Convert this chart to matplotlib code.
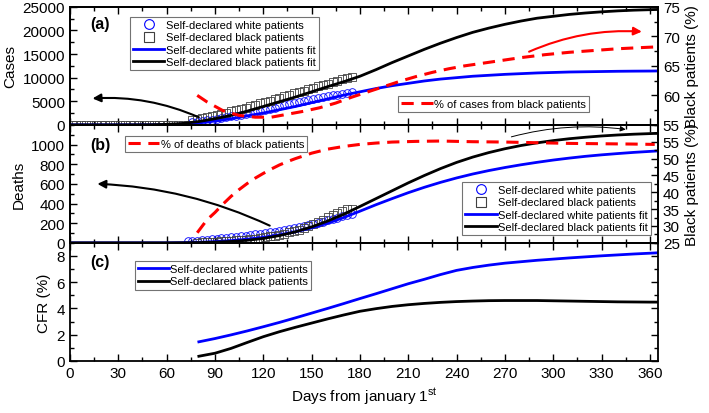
import numpy as np
import matplotlib.pyplot as plt
from matplotlib.lines import Line2D
from matplotlib.ticker import MultipleLocator

plt.rcParams['font.family'] = 'Liberation Sans'
plt.rcParams['mathtext.fontset'] = 'custom'
plt.rcParams['mathtext.rm'] = 'Liberation Sans'
plt.rcParams['xtick.direction'] = 'in'
plt.rcParams['ytick.direction'] = 'in'

# fitted curves (days from january 1st)
days_fit = np.append(np.arange(0, 361, 10), 365)
cases_white_fit = [0, 0, 0, 0, 0, 5, 30, 150, 400, 800, 1300, 1900, 2500, 3200, 3900, 4700,
                   5500, 6300, 7000, 7700, 8300, 8800, 9300, 9700, 10000, 10300, 10500, 10700,
                   10850, 11000, 11100, 11200, 11250, 11300, 11350, 11380, 11400, 11420]
cases_black_fit = [0, 0, 0, 0, 10, 30, 100, 300, 700, 1300, 2000, 2900, 3900, 4900, 5900, 7000,
                   8100, 9150, 10300, 11700, 13200, 14600, 16000, 17300, 18500, 19600, 20500,
                   21300, 22000, 22600, 23000, 23400, 23700, 23950, 24150, 24300, 24400, 24450]
deaths_white_fit = [0, 0, 0, 0, 0, 0, 0, 2, 5, 12, 22, 36, 55, 80, 112, 152, 200, 258, 322, 388,
                    450, 510, 565, 615, 660, 700, 735, 766, 794, 819, 842, 862, 880, 895, 908,
                    920, 930, 935]
deaths_black_fit = [0, 0, 0, 0, 0, 0, 0, 1, 3, 7, 14, 26, 45, 74, 112, 162, 222, 292, 370, 450,
                    530, 610, 685, 755, 818, 872, 918, 957, 990, 1017, 1040, 1059, 1074, 1087,
                    1097, 1105, 1111, 1114]

# observed data
obs_days = np.arange(76, 176, 3)
cases_white_obs = [600, 700, 830, 960, 1100, 1250, 1420, 1600, 1780, 1960, 2150, 2350, 2560,
                   2770, 2990, 3210, 3440, 3670, 3900, 4130, 4360, 4590, 4810, 5030, 5240, 5450,
                   5650, 5850, 6040, 6230, 6410, 6580, 6750, 6900]
cases_black_obs = [1000, 1250, 1500, 1700, 1900, 2100, 2350, 2600, 2850, 3100, 3380, 3660, 3950,
                   4250, 4550, 4850, 5150, 5450, 5750, 6050, 6350, 6650, 6950, 7250, 7550, 7850,
                   8150, 8450, 8750, 9050, 9350, 9650, 9900, 10100]
pre_days = np.arange(1, 76, 3)
pre_cases_black = [0, 0, 0, 0, 0, 0, 0, 0, 0, 0, 0, 0, 0, 0, 0, 0, 0, 0, 0, 0, 0, 0, 0, 0, 0]

deaths_white_days = np.arange(73, 176, 3)
deaths_white_obs = [15, 18, 22, 27, 32, 37, 42, 47, 52, 57, 62, 68, 74, 80, 86, 92, 99, 106, 113,
                    121, 129, 138, 147, 157, 168, 179, 191, 203, 216, 229, 243, 257, 271, 284, 296]
deaths_black_days = np.arange(79, 176, 3)
deaths_black_obs = [3, 5, 7, 9, 11, 14, 17, 20, 24, 28, 33, 38, 44, 50, 57, 65, 74, 84, 95, 107,
                    120, 135, 151, 169, 189, 211, 235, 260, 285, 308, 327, 340, 345]

# share of black patients (%)
pct_cases_days = [79, 85, 95, 105, 115, 125, 135, 145, 155, 165, 175, 185, 195, 205, 215, 225,
                  235, 245, 255, 265, 280, 295, 310, 325, 340, 355, 363]
pct_cases = [60.0, 58.9, 57.4, 56.6, 56.3, 56.3, 56.8, 57.3, 57.9, 58.7, 59.7, 60.6, 61.5, 62.4,
             63.2, 63.9, 64.5, 65.0, 65.4, 65.8, 66.4, 66.9, 67.3, 67.6, 67.9, 68.1, 68.2]
pct_deaths_days = [79, 85, 90, 95, 100, 105, 110, 115, 120, 125, 130, 135, 140, 150, 160, 170,
                   180, 190, 200, 215, 230, 250, 270, 290, 310, 330, 350, 363]
pct_deaths = [28.0, 31.8, 34.0, 36.5, 38.8, 40.8, 42.6, 44.2, 45.6, 46.9, 48.1, 49.1, 50.0, 51.6,
              52.8, 53.6, 54.2, 54.6, 54.9, 55.1, 55.2, 55.0, 54.9, 54.7, 54.5, 54.4, 54.3, 54.2]

# case fatality rate (%)
days_cfr = np.append(np.arange(80, 361, 10), 365)
cfr_white = [1.45, 1.7, 1.98, 2.28, 2.6, 2.93, 3.28, 3.64, 4.0, 4.37, 4.75, 5.12, 5.5, 5.88,
             6.22, 6.58, 6.9, 7.12, 7.3, 7.45, 7.56, 7.67, 7.76, 7.85, 7.93, 8.01, 8.08, 8.15,
             8.21, 8.24]
cfr_black = [0.35, 0.58, 0.95, 1.4, 1.84, 2.22, 2.56, 2.88, 3.2, 3.5, 3.78, 3.98, 4.15, 4.28,
             4.38, 4.46, 4.52, 4.56, 4.59, 4.6, 4.6, 4.6, 4.58, 4.56, 4.54, 4.52, 4.5, 4.49,
             4.48, 4.48]

lab_w = 'Self-declared white patients'
lab_b = 'Self-declared black patients'
lab_wf = 'Self-declared white patients fit'
lab_bf = 'Self-declared black patients fit'

fig = plt.figure(figsize=(7.09, 4.14), dpi=100)
gs = fig.add_gridspec(3, 1, left=0.0987, right=0.928, top=0.981, bottom=0.126, hspace=0)
ax_a = fig.add_subplot(gs[0])
ax_b = fig.add_subplot(gs[1], sharex=ax_a)
ax_c = fig.add_subplot(gs[2], sharex=ax_a)
tw_a = ax_a.twinx()
tw_b = ax_b.twinx()


def style(ax):
    for s in ax.spines.values():
        s.set_linewidth(1.3)
    ax.tick_params(which='major', length=5, width=1, labelsize=11, top=True)
    ax.tick_params(which='minor', length=3, width=1, top=True)


for ax in (ax_a, ax_b, ax_c, tw_a, tw_b):
    style(ax)
ax_c.tick_params(which='both', right=True)

ax_a.set_xlim(0, 365)
ax_a.xaxis.set_major_locator(MultipleLocator(30))
ax_a.xaxis.set_minor_locator(MultipleLocator(15))
ax_a.tick_params(labelbottom=False)
ax_b.tick_params(labelbottom=False)

mk = dict(ls='none', mfc='none', ms=5.5, mew=0.6)
fit = dict(lw=2)
dash = dict(color='red', lw=2.2, dashes=(4, 2.5))

# (a) cases
ax_a.plot(pre_days, pre_cases_black, marker='s', mec='0.25', **mk)
ax_a.plot(obs_days, cases_white_obs, marker='o', mec='blue', **mk)
ax_a.plot(obs_days, cases_black_obs, marker='s', mec='0.25', **mk)
ax_a.plot(days_fit, cases_white_fit, color='blue', **fit)
ax_a.plot(days_fit, cases_black_fit, color='black', **fit)
ax_a.set_ylim(0, 25000)
ax_a.set_yticks(np.arange(0, 25001, 5000))
ax_a.yaxis.set_minor_locator(MultipleLocator(2500))
ax_a.set_ylabel('Cases', fontsize=11)
tw_a.plot(pct_cases_days, pct_cases, **dash)
tw_a.set_ylim(55, 75)
tw_a.set_yticks(np.arange(55, 76, 5))
tw_a.yaxis.set_minor_locator(MultipleLocator(2.5))
tw_a.set_ylabel('Black patients (%)', fontsize=11)
ax_a.text(0.034, 0.86, '(a)', transform=ax_a.transAxes, fontsize=11.5,
          fontweight='bold', va='center')

ax_a.annotate('', xy=(14, 5600), xytext=(80, 1600),
              arrowprops=dict(arrowstyle='-|>', color='black', lw=1.5, mutation_scale=12,
                              shrinkA=0, shrinkB=0, connectionstyle='arc3,rad=0.12'))
tw_a.annotate('', xy=(355, 70.8), xytext=(285, 67.4),
              arrowprops=dict(arrowstyle='-|>', color='red', lw=1.5, mutation_scale=12,
                              shrinkA=0, shrinkB=0, connectionstyle='arc3,rad=-0.12'))

# (b) deaths
ax_b.plot(deaths_white_days, deaths_white_obs, marker='o', mec='blue', **mk)
ax_b.plot(deaths_black_days, deaths_black_obs, marker='s', mec='0.25', **mk)
ax_b.plot(days_fit, deaths_white_fit, color='blue', **fit)
ax_b.plot(days_fit, deaths_black_fit, color='black', **fit)
ax_b.set_ylim(0, 1200)
ax_b.set_yticks(np.arange(0, 1001, 200))
ax_b.yaxis.set_minor_locator(MultipleLocator(100))
ax_b.set_ylabel('Deaths', fontsize=11)
tw_b.plot(pct_deaths_days, pct_deaths, **dash)
tw_b.set_ylim(25, 60)
tw_b.set_yticks(np.arange(25, 56, 5))
tw_b.yaxis.set_minor_locator(MultipleLocator(2.5))
tw_b.set_ylabel('Black patients (%)', fontsize=11)
ax_b.text(0.034, 0.83, '(b)', transform=ax_b.transAxes, fontsize=11.5,
          fontweight='bold', va='center')

ax_b.annotate('', xy=(17, 600), xytext=(124, 175),
              arrowprops=dict(arrowstyle='-|>', color='black', lw=1.5, mutation_scale=12,
                              shrinkA=0, shrinkB=0, connectionstyle='arc3,rad=0.1'))
ax_b.annotate('', xy=(345, 1153), xytext=(274, 1078),
              arrowprops=dict(arrowstyle='-|>', color='black', lw=0.7, mutation_scale=8,
                              shrinkA=0, shrinkB=0, connectionstyle='arc3,rad=-0.1'))

# (c) CFR
ax_c.plot(days_cfr, cfr_white, color='blue', label=lab_w, **fit)
ax_c.plot(days_cfr, cfr_black, color='black', label=lab_b, **fit)
ax_c.set_ylim(0, 9)
ax_c.set_yticks(np.arange(0, 9, 2))
ax_c.yaxis.set_minor_locator(MultipleLocator(1))
ax_c.set_ylabel('CFR (%)', fontsize=11)
ax_c.set_xlabel('Days from january 1$^{\\mathrm{st}}$', fontsize=11)
ax_c.text(0.034, 0.84, '(c)', transform=ax_c.transAxes, fontsize=11.5,
          fontweight='bold', va='center')

# legends
h4 = [Line2D([], [], ls='none', marker='o', mfc='none', mec='blue', ms=7, mew=0.8),
      Line2D([], [], ls='none', marker='s', mfc='none', mec='0.25', ms=7, mew=0.8),
      Line2D([], [], color='blue', lw=2),
      Line2D([], [], color='black', lw=2)]
leg_kw = dict(loc='upper left', fontsize=8, frameon=True, fancybox=False, edgecolor='0.45',
              framealpha=1, borderpad=0.3, labelspacing=0.2, handlelength=2.8,
              handletextpad=0.1, borderaxespad=0)


def add_legend(ax, handles, labels, anchor):
    lg = ax.legend(handles, labels, bbox_to_anchor=anchor, **leg_kw)
    lg.get_frame().set_linewidth(0.8)
    return lg


add_legend(ax_a, h4, [lab_w, lab_b, lab_wf, lab_bf], (0.102, 0.915))
add_legend(ax_b, h4, [lab_w, lab_b, lab_wf, lab_bf], (0.667, 0.517))
hd = [Line2D([], [], **dash)]
add_legend(tw_a, hd, ['% of cases from black patients'], (0.558, 0.246))
add_legend(tw_b, hd, ['% of deaths of black patients'], (0.0935, 0.907))
add_legend(ax_c, [Line2D([], [], color='blue', lw=2), Line2D([], [], color='black', lw=2)],
           [lab_w, lab_b], (0.11, 0.847))

fig.savefig('out.png', dpi=100)
